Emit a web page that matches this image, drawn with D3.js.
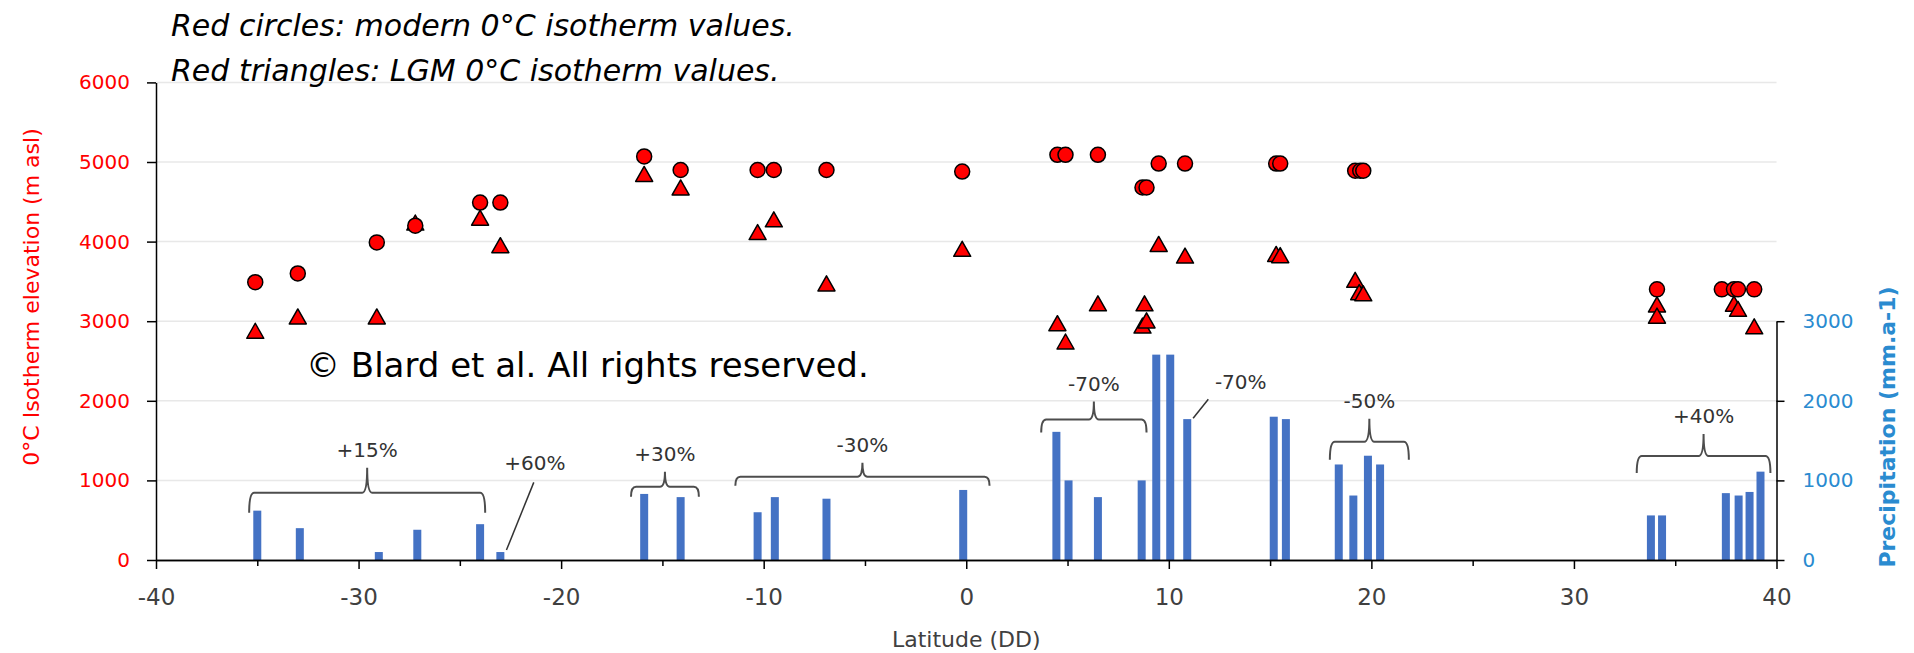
<!DOCTYPE html>
<html>
<head>
<meta charset="utf-8">
<script src="https://cdn.jsdelivr.net/npm/d3@7/dist/d3.min.js"></script>
<style>
 body {margin:0; background:#fff;}
 svg {display:block; font-family:"DejaVu Sans", sans-serif;}
</style>
<title>0°C isotherm and precipitation vs latitude</title>
</head>
<body>
<div id="chart"></div>
<script>
// modern 0°C isotherm (red circles)
var modernLat  = [-35.1, -33.0, -29.1, -27.2, -24.0, -23.0, -15.9, -14.1, -10.3, -9.5, -6.9, -0.2,
                  4.5, 4.9, 6.5, 8.7, 8.9, 9.5, 10.8, 15.3, 15.5, 19.2, 19.45, 19.6,
                  34.1, 37.3, 37.9, 38.1, 38.9];
var modernElev = [3490, 3600, 3990, 4200, 4490, 4490, 5070, 4900, 4900, 4900, 4900, 4880,
                  5090, 5090, 5090, 4680, 4680, 4980, 4980, 4980, 4980, 4890, 4890, 4890,
                  3400, 3400, 3400, 3400, 3400];
// LGM 0°C isotherm (red triangles)
var lgmLat  = [-35.1, -33.0, -29.1, -27.2, -24.0, -23.0, -15.9, -14.1, -10.3, -9.5, -6.9, -0.2,
               4.5, 4.9, 6.5, 8.7, 8.8, 8.9, 9.5, 10.8, 15.3, 15.5, 19.2, 19.4, 19.6,
               34.1, 34.1, 37.9, 38.1, 38.9];
var lgmElev = [2880, 3060, 3060, 4240, 4300, 3955, 4850, 4680, 4120, 4280, 3475, 3910,
               2975, 2745, 3225, 2945, 3225, 3010, 3970, 3825, 3845, 3830, 3520, 3365, 3350,
               3210, 3070, 3220, 3155, 2935];
// precipitation (blue bars)
var rainLat = [-35.0, -32.9, -29.0, -27.1, -24.0, -23.0, -15.9, -14.1, -10.3, -9.45, -6.9, -0.15,
               4.45, 5.05, 6.5, 8.66, 9.38, 10.07, 10.91, 15.18, 15.78, 18.39, 19.11, 19.83, 20.43,
               33.8, 34.35, 37.5, 38.13, 38.67, 39.21];
var rainVal = [620, 400, 100, 380, 450, 100, 830, 790, 600, 790, 770, 880,
               1610, 1000, 790, 1000, 2580, 2580, 1770, 1800, 1770, 1200, 810, 1310, 1200,
               560, 560, 840, 810, 855, 1110];

var elevTicks = [0, 1000, 2000, 3000, 4000, 5000, 6000];
var rainTicks = [0, 1000, 2000, 3000];
var latTicks = [-40, -30, -20, -10, 0, 10, 20, 30, 40];
var latMinor = [-35, -25, -15, -5, 5, 15, 25, 35];

// precipitation change brackets
var braceLabel = ["+15%", "+30%", "-30%", "-70%", "-50%", "+40%"];
var braceFrom  = [-35.4, -16.55, -11.4, 3.7, 17.95, 33.1];
var braceTo    = [-23.75, -13.2, 1.15, 8.9, 21.85, 39.7];
var braceLevel = [845, 920, 1045, 1765, 1485, 1305];
var braceSize  = [20, 10, 9, 13, 18, 17];
// leader-line labels
var leadLabel = ["+60%", "-70%"];
var leadFrom  = [[-22.7, 125], [11.2, 1780]];
var leadTo    = [[-21.35, 975], [11.95, 2020]];
var leadText  = [[-21.3, 1125], [13.55, 2145]];

var width = 1914, height = 653;
var svg = d3.select("#chart").append("svg").attr("width", width).attr("height", height);

var x = d3.scaleLinear().domain([-40, 40]).range([156, 1776.5]);
var y = d3.scaleLinear().domain([0, 6000]).range([560, 82.4]);
var yr = d3.scaleLinear().domain([0, 3000]).range([560, 321.2]);

// grid
svg.append("g").selectAll("line").data(elevTicks.slice(1)).enter().append("line")
   .attr("x1", x(-40)).attr("x2", x(40))
   .attr("y1", function(d){ return y(d); }).attr("y2", function(d){ return y(d); })
   .attr("stroke", "#e8e8e8").attr("stroke-width", 1.5);

// bars
svg.append("g").selectAll("rect").data(rainLat).enter().append("rect")
   .attr("x", function(d){ return x(d) - 4; })
   .attr("width", 8)
   .attr("y", function(d, i){ return yr(rainVal[i]); })
   .attr("height", function(d, i){ return yr(0) - yr(rainVal[i]); })
   .attr("fill", "#4472C4");

// axes
function styleAxis(g, color, size) {
  g.select(".domain").attr("stroke", "#000").attr("stroke-width", 1.5);
  g.selectAll(".tick line").attr("stroke", "#000").attr("stroke-width", 1.5);
  g.selectAll(".tick text").attr("fill", color).attr("font-size", size)
   .attr("font-family", "DejaVu Sans, sans-serif");
}
var fmt = function(d){ return String(d); };

svg.append("g").attr("transform", "translate(" + x(-40) + ",0)")
   .call(d3.axisLeft(y).tickValues(elevTicks).tickSize(9).tickSizeOuter(0).tickPadding(17).tickFormat(fmt))
   .call(styleAxis, "#FF0000", 20);

svg.append("g").attr("transform", "translate(0," + y(0) + ")")
   .call(d3.axisBottom(x).tickValues(latMinor).tickSize(6).tickSizeOuter(0).tickFormat(""))
   .call(styleAxis, "#404040", 23);
svg.append("g").attr("transform", "translate(0," + y(0) + ")")
   .call(d3.axisBottom(x).tickValues(latTicks).tickSize(9).tickSizeOuter(0).tickPadding(20).tickFormat(fmt))
   .call(styleAxis, "#404040", 23);

svg.append("g").attr("transform", "translate(" + x(40) + ",0)")
   .call(d3.axisRight(yr).tickValues(rainTicks).tickSize(8).tickSizeOuter(0).tickPadding(18).tickFormat(fmt))
   .call(styleAxis, "#2A8BD0", 20);

// brackets
var braces = svg.append("g").attr("fill", "none").attr("stroke", "#4d4d4d").attr("stroke-width", 2);
braceLabel.forEach(function(lab, i) {
  var x0 = x(braceFrom[i]), x1 = x(braceTo[i]), xm = (x0 + x1) / 2;
  var yy = yr(braceLevel[i]), d = braceSize[i], h = d + 5, r = 5;
  var p = d3.path();
  p.moveTo(x0, yy + d);
  p.quadraticCurveTo(x0, yy, x0 + r, yy);
  p.lineTo(xm - r, yy);
  p.quadraticCurveTo(xm, yy, xm, yy - h);
  p.quadraticCurveTo(xm, yy, xm + r, yy);
  p.lineTo(x1 - r, yy);
  p.quadraticCurveTo(x1, yy, x1, yy + d);
  braces.append("path").attr("d", p.toString());
  svg.append("text").attr("x", xm).attr("y", yy - h - 11)
     .attr("text-anchor", "middle").attr("font-size", 20).attr("fill", "#333").text(lab);
});
leadLabel.forEach(function(lab, i) {
  svg.append("line")
     .attr("x1", x(leadFrom[i][0])).attr("y1", yr(leadFrom[i][1]))
     .attr("x2", x(leadTo[i][0])).attr("y2", yr(leadTo[i][1]))
     .attr("stroke", "#333").attr("stroke-width", 1.5);
  svg.append("text").attr("x", x(leadText[i][0])).attr("y", yr(leadText[i][1]))
     .attr("text-anchor", "middle").attr("font-size", 20).attr("fill", "#333").text(lab);
});

// triangles, then circles on top
svg.append("g").selectAll("path").data(lgmLat).enter().append("path")
   .attr("d", "M0,-7.5L8.5,7.5L-8.5,7.5Z")
   .attr("transform", function(d, i){ return "translate(" + x(d) + "," + y(lgmElev[i]) + ")"; })
   .attr("fill", "#FF0000").attr("stroke", "#000").attr("stroke-width", 1.5).attr("stroke-linejoin", "round");

svg.append("g").selectAll("circle").data(modernLat).enter().append("circle")
   .attr("cx", function(d){ return x(d); })
   .attr("cy", function(d, i){ return y(modernElev[i]); })
   .attr("r", 7.5)
   .attr("fill", "#FF0000").attr("stroke", "#000").attr("stroke-width", 1.5);

// axis titles
svg.append("text").attr("transform", "translate(39," + 297 + ") rotate(-90)")
   .attr("text-anchor", "middle").attr("font-size", 22).attr("fill", "#FF0000")
   .text("0°C Isotherm elevation (m asl)");
svg.append("text").attr("transform", "translate(1895," + 427 + ") rotate(-90)")
   .attr("text-anchor", "middle").attr("font-size", 22).attr("font-weight", "bold").attr("fill", "#2A8BD0")
   .text("Precipitation (mm.a-1)");
svg.append("text").attr("x", (x(-40) + x(40)) / 2).attr("y", 647)
   .attr("text-anchor", "middle").attr("font-size", 22).attr("fill", "#404040")
   .text("Latitude (DD)");

// notes
svg.append("text").attr("x", 171).attr("y", 36).attr("font-size", 30).attr("font-style", "italic")
   .text("Red circles: modern 0°C isotherm values.");
svg.append("text").attr("x", 171).attr("y", 81).attr("font-size", 30).attr("font-style", "italic")
   .text("Red triangles: LGM 0°C isotherm values.");
svg.append("text").attr("x", 306).attr("y", 377).attr("font-size", 34)
   .text("© Blard et al. All rights reserved.");
</script>
</body>
</html>
